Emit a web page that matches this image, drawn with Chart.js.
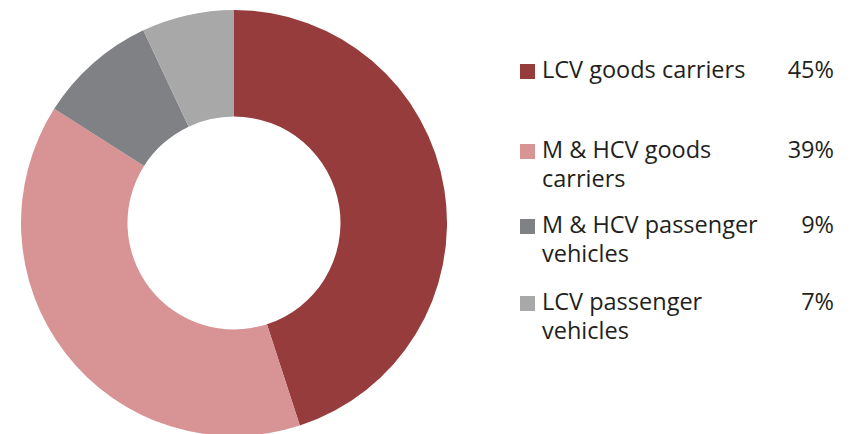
<!DOCTYPE html>
<html>
<head>
<meta charset="utf-8">
<script src="https://cdn.jsdelivr.net/npm/chart.js@4/dist/chart.umd.min.js"></script>
<style>
  html, body { margin: 0; padding: 0; background: #fff; overflow: hidden; }
  body { width: 852px; height: 434px; position: relative; font-family: "Open Sans", Lato, sans-serif; color: #231f20; }
  #wrap { position: absolute; left: 21px; top: 10px; width: 426px; height: 426px; }
  #legend { position: absolute; left: 520px; top: 55px; width: 314px; }
  .row { display: flex; align-items: flex-start; min-height: 62px; margin-bottom: 15px; font-size: 23.5px; line-height: 29px; }
  .row:nth-child(1) { margin-bottom: 18px; }
  .row:nth-child(2) { margin-bottom: 13px; }
  .box { width: 15px; height: 15px; margin-top: 9px; margin-right: 7px; flex: none; }
  .lbl { flex: 1; white-space: nowrap; }
  .pct { flex: none; text-align: right; }
</style>
</head>
<body>
<div id="wrap"><canvas id="c"></canvas></div>
<div id="legend"></div>
<script>
// segment share, percent
const categories = [
  ['LCV goods carriers'],
  ['M & HCV goods', 'carriers'],
  ['M & HCV passenger', 'vehicles'],
  ['LCV passenger', 'vehicles']
];
const shares = [45, 39, 9, 7];
const colours = ['#963c3c', '#d89395', '#808184', '#a8a8a8'];

const chart = new Chart(document.getElementById('c').getContext('2d'), {
  type: 'doughnut',
  data: {
    labels: categories,
    datasets: [{
      data: shares,
      backgroundColor: colours,
      hoverBackgroundColor: colours,
      borderWidth: 0
    }]
  },
  options: {
    animation: false,
    responsive: true,
    maintainAspectRatio: false,
    cutout: '50%',
    plugins: {
      legend: { display: false },
      tooltip: { enabled: false }
    }
  }
});

// html legend built from the chart's own data
const legend = document.getElementById('legend');
chart.data.labels.forEach((lines, i) => {
  const row = document.createElement('div');
  row.className = 'row';
  const box = document.createElement('div');
  box.className = 'box';
  box.style.background = chart.data.datasets[0].backgroundColor[i];
  const lbl = document.createElement('div');
  lbl.className = 'lbl';
  lbl.innerHTML = lines.map(l => l.replace(/&/g, '&amp;')).join('<br>');
  const pct = document.createElement('div');
  pct.className = 'pct';
  pct.textContent = chart.data.datasets[0].data[i] + '%';
  row.append(box, lbl, pct);
  legend.appendChild(row);
});
</script>
</body>
</html>
